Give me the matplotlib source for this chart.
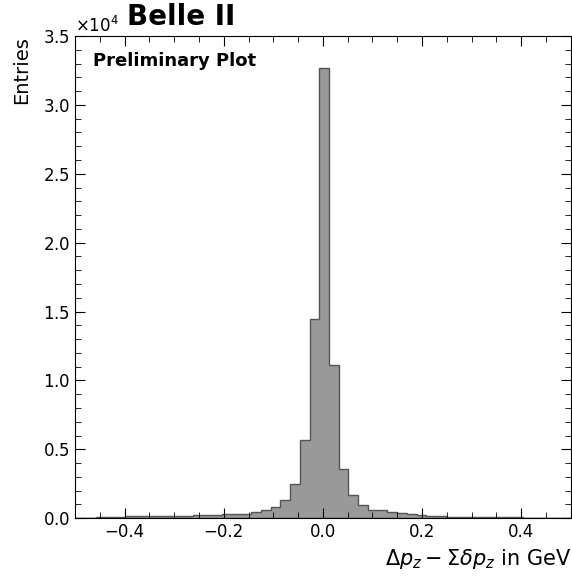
import numpy as np
import matplotlib
matplotlib.use("Agg")
import matplotlib.pyplot as plt
from matplotlib.ticker import MultipleLocator

# bin edges: 51 bins of width 1/51, offset so the peak bin sits just right of zero
n_bins = 51
edges = np.linspace(-0.4975, 0.5025, n_bins + 1)

# entries per bin
counts = [30, 50, 80, 110, 125, 130, 130, 135, 140, 165, 170, 175,
          230, 250, 270, 320, 330, 340, 440, 630, 820, 1310, 2470, 5660,
          14430, 32660, 11110, 3560, 1720, 970, 630, 600, 490, 360, 290,
          270, 180, 150, 90, 80, 70, 100, 100, 90, 80, 60, 50, 40, 30,
          20, 10]

centers = 0.5 * (edges[:-1] + edges[1:])

fig = plt.figure(figsize=(5.72, 5.81), dpi=100)
ax = fig.add_axes([0.131, 0.108, 0.867, 0.830])

ax.hist(centers, bins=edges, weights=counts, histtype="stepfilled",
        facecolor="#999999", edgecolor="#555555", linewidth=1.0)

ax.set_xlim(-0.5, 0.5)
ax.set_ylim(0, 35000)

ax.xaxis.set_major_locator(MultipleLocator(0.2))
ax.xaxis.set_minor_locator(MultipleLocator(0.05))
ax.yaxis.set_major_locator(MultipleLocator(5000))
ax.yaxis.set_minor_locator(MultipleLocator(1000))
ax.ticklabel_format(axis="y", style="sci", scilimits=(4, 4), useMathText=True)
ax.yaxis.get_offset_text().set_fontsize(12)

ax.tick_params(which="both", direction="in", top=True, right=True, labelsize=12)
ax.tick_params(which="major", length=7)
ax.tick_params(which="minor", length=4)

ax.set_xlabel(r"$\Delta p_z - \Sigma\delta p_z$ in GeV", fontsize=15, loc="right")
ax.set_ylabel("Entries", fontsize=14, loc="top")
ax.yaxis.set_label_coords(-0.088, 1.0)

ax.text(0.036, 0.967, "Preliminary Plot", transform=ax.transAxes,
        fontsize=13, fontweight="bold", va="top", ha="left")
fig.text(0.222, 0.957, "Belle II", fontsize=20, fontweight="bold",
         va="baseline", ha="left")

fig.savefig("out.png", dpi=100)
